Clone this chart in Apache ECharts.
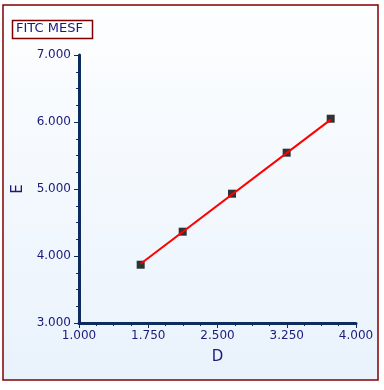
<!DOCTYPE html>
<html><head><meta charset="utf-8">
<script src="https://cdn.jsdelivr.net/npm/echarts@6/dist/echarts.min.js"></script>
<style>html,body{margin:0;padding:0;background:#fff}#c{width:384px;height:390px}</style>
</head><body><div id="c"></div>
<script>
var titleText = "FITC MESF";
var xName = "D";
var yName = "E";
var pointsD = [1.668, 2.123, 2.657, 3.249, 3.726];
var pointsE = [3.870, 4.363, 4.930, 5.542, 6.049];
var fitD = [1.668, 3.726];
var fitE = [3.885, 6.035];

var pts = pointsD.map(function(d,i){return [d, pointsE[i]];});
var fit = fitD.map(function(d,i){return [d, fitE[i]];});
var navy = '#1a1a7a';
var axisCol = '#0d2c5e';
var chart = echarts.init(document.getElementById('c'), null, {renderer:'canvas'});
chart.setOption({
  animation:false,
  graphic:[
    {type:'rect', shape:{x:3,y:5,width:375,height:375}, style:{fill:new echarts.graphic.LinearGradient(0,0,0,1,[{offset:0,color:'#fdfeff'},{offset:1,color:'#e9f2fc'}]), stroke:'#800000', lineWidth:1.5}, z:-10, silent:true},
    {type:'rect', shape:{x:12.5,y:20.5,width:80,height:18}, style:{fill:'rgba(0,0,0,0)', stroke:'#800000', lineWidth:1.5}, z:10},
    {type:'text', left:16, top:22, style:{text:titleText, font:'13px "DejaVu Sans"', fill:navy}, z:11}
  ],
  grid:{left:79, right:28, top:55, bottom:67},
  xAxis:{type:'value', min:1, max:4, interval:0.75, name:xName, nameLocation:'middle', nameGap:27,
    nameTextStyle:{color:navy, fontSize:15, fontFamily:'DejaVu Sans'},
    axisLine:{onZero:false, lineStyle:{color:axisCol, width:3}},
    axisTick:{length:5, lineStyle:{color:axisCol, width:1}},
    minorTick:{show:true, splitNumber:4, length:3, lineStyle:{color:axisCol, width:1}},
    splitLine:{show:false},
    axisLabel:{color:navy, fontSize:12, fontFamily:'DejaVu Sans', margin:7, formatter:function(v){return v.toFixed(3);}}
  },
  yAxis:{type:'value', min:3, max:7, interval:1, name:yName, nameLocation:'middle', nameGap:50, nameRotate:90,
    nameTextStyle:{color:navy, fontSize:15, fontFamily:'DejaVu Sans'},
    axisLine:{onZero:false, lineStyle:{color:axisCol, width:3}},
    axisTick:{length:5, lineStyle:{color:axisCol, width:1}},
    minorTick:{show:true, splitNumber:4, length:3, lineStyle:{color:axisCol, width:1}},
    splitLine:{show:false},
    axisLabel:{color:navy, fontSize:12, fontFamily:'DejaVu Sans', margin:8, formatter:function(v){return v.toFixed(3);}}
  },
  series:[
    {type:'scatter', data:pts, symbol:'rect', symbolSize:8, itemStyle:{color:'#000'}, z:2},
    {type:'line', data:fit, showSymbol:false, symbol:'none', lineStyle:{color:'#ff0000', width:2}, z:3}
  ]
});
</script></body></html>
